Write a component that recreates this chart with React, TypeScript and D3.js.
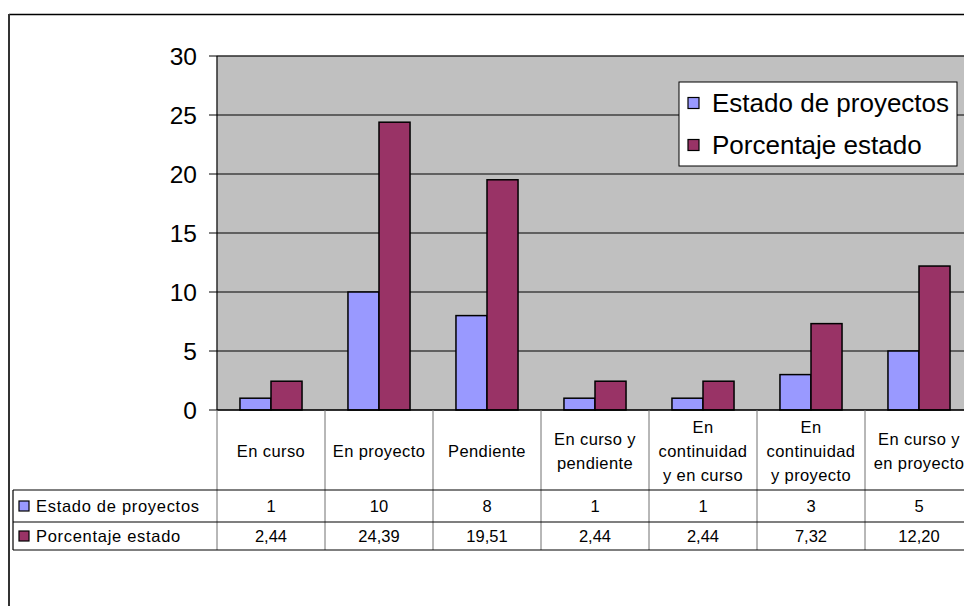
import * as d3 from 'd3'

const categories = [
  ['En curso'],
  ['En proyecto'],
  ['Pendiente'],
  ['En curso y', 'pendiente'],
  ['En', 'continuidad', 'y en curso'],
  ['En', 'continuidad', 'y proyecto'],
  ['En curso y', 'en proyecto'],
]
const seriesNames = ['Estado de proyectos', 'Porcentaje estado']
const estado = [1, 10, 8, 1, 1, 3, 5]
const porcentaje = [2.44, 24.39, 19.51, 2.44, 2.44, 7.32, 12.2]
const porcentajeLabels = ['2,44', '24,39', '19,51', '2,44', '2,44', '7,32', '12,20']
const yTicks = [0, 5, 10, 15, 20, 25, 30]

const COLORS = ['#9999ff', '#993366']
const FONT = '"Liberation Sans", Arial, sans-serif'

export default function App() {
  const width = 964
  const height = 606
  const plot = { left: 217, right: 973, top: 56, bottom: 410 }
  const table = { left: 13, headBottom: 490, row1Bottom: 522, row2Bottom: 550 }

  const keys = categories.map((c) => c.join(' '))
  const x = d3.scaleBand<string>().domain(keys).range([plot.left, plot.right])
  const x1 = d3.scaleBand<number>().domain([0, 1]).range([0, x.bandwidth()]).paddingOuter(0.74)
  const y = d3.scaleLinear().domain([0, 30]).range([plot.bottom, plot.top])

  const series = [estado, porcentaje]
  const rowLabels = [estado.map(String), porcentajeLabels]
  const tableFont = 16.5

  return (
    <svg
      width={width}
      height={height}
      style={{ position: 'absolute', left: 0, top: 0, fontFamily: FONT }}
    >
      <rect x={0} y={0} width={width} height={height} fill="#fff" />
      {/* chart border */}
      <line x1={9} x2={width} y1={14.5} y2={14.5} stroke="#000" strokeWidth={1.5} />
      <line x1={9} x2={9} y1={14} y2={height} stroke="#333" strokeWidth={2} />

      {/* plot area */}
      <rect
        x={plot.left}
        y={plot.top}
        width={plot.right - plot.left}
        height={plot.bottom - plot.top}
        fill="#c0c0c0"
        stroke="#808080"
        strokeWidth={1}
      />
      {yTicks.slice(1).map((t) => (
        <line key={t} x1={plot.left} x2={plot.right} y1={y(t)} y2={y(t)} stroke="#000" strokeWidth={1} />
      ))}

      {/* bars */}
      {series.map((vals, si) =>
        vals.map((v, i) => (
          <rect
            key={`${si}-${i}`}
            x={x(keys[i])! + x1(si)!}
            y={y(v)}
            width={x1.bandwidth()}
            height={y(0) - y(v)}
            fill={COLORS[si]}
            stroke="#000"
            strokeWidth={1.5}
          />
        ))
      )}

      {/* y axis */}
      <line x1={plot.left} x2={plot.left} y1={plot.top} y2={plot.bottom} stroke="#000" strokeWidth={1} />
      {yTicks.map((t) => (
        <g key={t}>
          <line x1={plot.left - 8} x2={plot.left} y1={y(t)} y2={y(t)} stroke="#000" />
          <text x={197} y={y(t)} dy="0.36em" textAnchor="end" fontSize={24.5} fill="#000">
            {t}
          </text>
        </g>
      ))}
      <line x1={plot.left} x2={plot.right} y1={plot.bottom} y2={plot.bottom} stroke="#000" strokeWidth={1.5} />

      {/* data table: category header */}
      {keys.map((k, i) => {
        const lines = categories[i]
        const cx = x(k)! + x.bandwidth() / 2
        const cy = (plot.bottom + table.headBottom) / 2 + 1
        const lh = 24
        return (
          <g key={k}>
            <line x1={x(k)!} x2={x(k)!} y1={plot.bottom} y2={table.row2Bottom} stroke="#707070" />
            {lines.map((ln, j) => (
              <text
                key={j}
                x={cx}
                y={cy + (j - (lines.length - 1) / 2) * lh}
                dy="0.36em"
                textAnchor="middle"
                fontSize={tableFont}
                letterSpacing={0.4}
                fill="#000"
              >
                {ln}
              </text>
            ))}
          </g>
        )
      })}
      <line x1={plot.right} x2={plot.right} y1={plot.bottom} y2={table.row2Bottom} stroke="#707070" />

      {/* table rows */}
      {[table.headBottom, table.row1Bottom, table.row2Bottom].map((yy) => (
        <line key={yy} x1={table.left} x2={plot.right} y1={yy} y2={yy} stroke="#000" strokeWidth={1.2} />
      ))}
      <line x1={table.left} x2={table.left} y1={table.headBottom} y2={table.row2Bottom} stroke="#000" strokeWidth={1.2} />
      {seriesNames.map((name, si) => {
        const top = si === 0 ? table.headBottom : table.row1Bottom
        const bottom = si === 0 ? table.row1Bottom : table.row2Bottom
        const cy = (top + bottom) / 2
        return (
          <g key={name}>
            <rect x={19} y={cy - 5} width={10} height={10} fill={COLORS[si]} stroke="#000" strokeWidth={1.2} />
            <text x={36} y={cy} dy="0.36em" fontSize={tableFont} letterSpacing={0.7} fill="#000">
              {name}
            </text>
            {rowLabels[si].map((lab, i) => (
              <text
                key={i}
                x={x(keys[i])! + x.bandwidth() / 2}
                y={cy}
                dy="0.36em"
                textAnchor="middle"
                fontSize={tableFont}
                fill="#000"
              >
                {lab}
              </text>
            ))}
          </g>
        )
      })}

      {/* legend */}
      <g>
        <rect x={679} y={82} width={278} height={84} fill="#fff" stroke="#000" strokeWidth={1} />
        {seriesNames.map((name, si) => {
          const cy = 103 + si * 42
          return (
            <g key={name}>
              <rect x={688} y={cy - 5.5} width={11} height={11} fill={COLORS[si]} stroke="#000" strokeWidth={1.2} />
              <text x={712} y={cy} dy="0.36em" fontSize={26} fill="#000">
                {name}
              </text>
            </g>
          )
        })}
      </g>
    </svg>
  )
}
